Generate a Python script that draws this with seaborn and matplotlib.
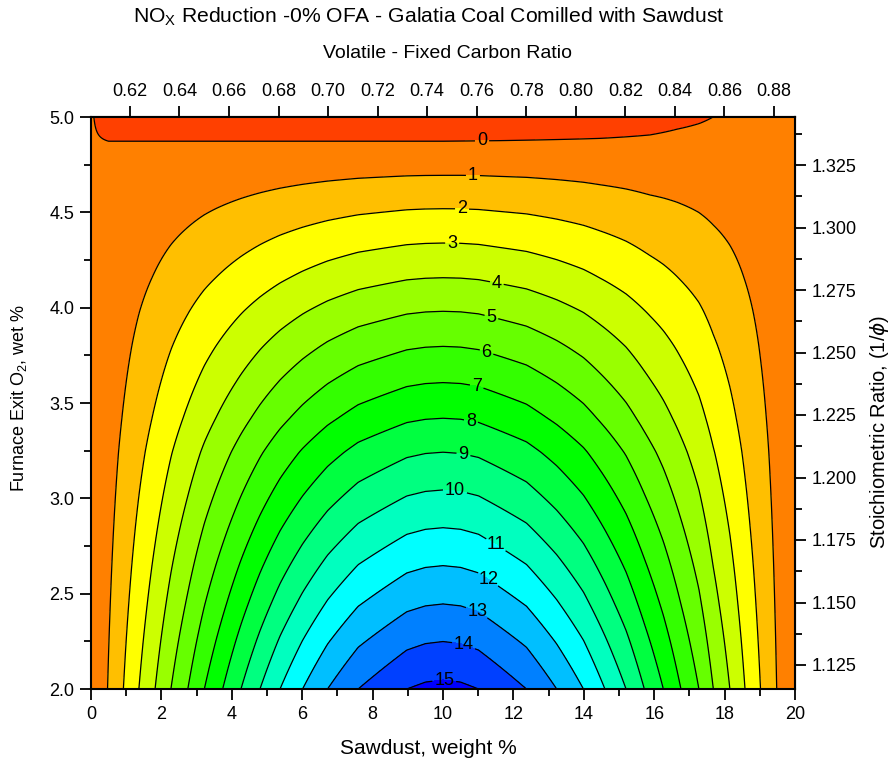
import numpy as np
import matplotlib
matplotlib.use("Agg")
import matplotlib.pyplot as plt
import seaborn as sns

# NOx reduction (%) read along the bottom edge (O2 = 2.0 %) versus sawdust weight %
sawdust_wt = [0.0, 0.47, 0.92, 1.36, 1.82, 2.27, 2.75, 3.22, 3.74, 4.26, 4.80,
              5.37, 6.01, 6.72, 7.59, 8.97, 9.5, 10.0, 10.5, 11.01, 12.37, 13.23,
              13.99, 14.60, 15.20, 15.72, 16.26, 16.76, 17.27, 17.68, 18.15,
              18.58, 19.02, 19.48, 20.0]
nox_low_o2 = [0.02, 1, 2, 3, 4, 5, 6, 7, 8, 9, 10,
              11, 12, 13, 14, 15, 15.18, 15.24, 15.18, 15, 14, 13,
              12, 11, 10, 9, 8, 7, 6, 5, 4,
              3, 2, 1, 0.05]

# NOx reduction (%) along the centre line (10 % sawdust) versus furnace exit O2
o2_wet = [2.0, 2.048, 2.249, 2.446, 2.647, 2.846, 3.044, 3.242, 3.420, 3.607,
          3.797, 3.981, 4.157, 4.339, 4.519, 4.694, 4.873, 5.0]
nox_centre = [15.24, 15, 14, 13, 12, 11, 10, 9, 8, 7,
              6, 5, 4, 3, 2, 1, 0, -0.71]

# value reached at the high-O2 edge where the sawdust term vanishes
edge_wt = [0.0, 0.5, 10.0, 11.6, 14.46, 15.88, 16.64, 17.3, 17.67, 20.0]
edge_nox = [0.01, 0.0, 0.0, 0.016, 0.061, 0.104, 0.163, 0.198, 0.223, 0.33]

levels = list(range(-1, 17))
line_levels = list(range(0, 16))
band_colors = ["#FF4000", "#FF8000", "#FFBF00", "#FFFF00", "#CCFF00", "#99FF00",
               "#66FF00", "#33FF00", "#00FF00", "#00FF40", "#00FF80", "#00FFBF",
               "#00FFFF", "#00BFFF", "#0080FF", "#0040FF", "#0000FF"]

# contour label anchor points (sawdust %, O2 %)
label_pos = [(11.11, 4.858), (10.85, 4.685), (10.54, 4.512), (10.26, 4.334),
             (11.53, 4.130), (11.39, 3.962), (11.22, 3.757), (10.97, 3.600),
             (10.80, 3.411), (10.57, 3.222), (10.34, 3.034), (11.59, 2.782),
             (11.31, 2.583), (10.97, 2.404), (10.57, 2.221), (10.03, 2.039)]

vfc_ticks = [0.62, 0.64, 0.66, 0.68, 0.70, 0.72, 0.74, 0.76, 0.78, 0.80,
             0.82, 0.84, 0.86, 0.88]
vfc_range = (0.6043, 0.8885)
sr_ticks = [1.125, 1.150, 1.175, 1.200, 1.225, 1.250, 1.275, 1.300, 1.325]
sr_range = (1.1154, 1.3442)

sns.set_style("ticks")
plt.rcParams["font.family"] = ["Liberation Sans", "DejaVu Sans"]
plt.rcParams["mathtext.fontset"] = "dejavusans"
for key in ("text.color", "axes.labelcolor", "xtick.color", "ytick.color",
            "axes.edgecolor"):
    plt.rcParams[key] = "black"

# separable response surface built from the two measured profiles
xg = np.linspace(0, 20, 801)
yg = np.linspace(2, 5, 601)
X, Y = np.meshgrid(xg, yg)
fx = np.interp(xg, sawdust_wt, nox_low_o2)
ey = np.interp(xg, edge_wt, edge_nox)
qy = np.interp(yg, o2_wet, nox_centre) / nox_centre[0]
Z = fx[None, :] * qy[:, None] + ey[None, :] * (1 - qy[:, None])

W, H = 895, 765
fig = plt.figure(figsize=(W / 100, H / 100), dpi=100)
ax = fig.add_axes([91 / W, 1 - 689 / H, 704 / W, 572 / H])

palette = sns.color_palette(band_colors)
ax.contourf(X, Y, Z, levels=levels, colors=palette)
cs = ax.contour(X, Y, Z, levels=line_levels, colors="black", linewidths=0.9)
labels = ax.clabel(cs, line_levels, manual=label_pos, fmt="%d", fontsize=13,
                   inline=True, inline_spacing=2, colors="black")
for t in labels:
    t.set_rotation(0)

ax.set_xlim(0, 20)
ax.set_ylim(2, 5)
ax.set_xticks(np.arange(0, 21, 2))
ax.set_xticks(np.arange(1, 20, 2), minor=True)
ax.set_yticks(np.arange(2.0, 5.01, 0.5))
ax.set_yticks(np.arange(2.25, 5.0, 0.5), minor=True)
ax.yaxis.set_major_formatter(matplotlib.ticker.FormatStrFormatter("%.1f"))
for s in ax.spines.values():
    s.set_linewidth(1.5)
    s.set_color("black")
ax.tick_params(which="both", direction="out", width=1.3, colors="black",
               labelsize=13, top=False, right=False)
ax.tick_params(which="major", length=8, pad=4)
ax.tick_params(which="minor", length=5)


def to_vfc(x):
    return vfc_range[0] + np.asarray(x) * (vfc_range[1] - vfc_range[0]) / 20


def from_vfc(v):
    return (np.asarray(v) - vfc_range[0]) * 20 / (vfc_range[1] - vfc_range[0])


def to_sr(y):
    return sr_range[0] + (np.asarray(y) - 2) * (sr_range[1] - sr_range[0]) / 3


def from_sr(s):
    return 2 + (np.asarray(s) - sr_range[0]) * 3 / (sr_range[1] - sr_range[0])


top = ax.secondary_xaxis("top", functions=(to_vfc, from_vfc))
top.set_xticks(vfc_ticks)
top.xaxis.set_major_formatter(matplotlib.ticker.FormatStrFormatter("%.2f"))
top.xaxis.set_minor_locator(matplotlib.ticker.NullLocator())
top.tick_params(which="major", direction="out", length=8, width=1.3,
                labelsize=13, pad=4, colors="black")

right = ax.secondary_yaxis("right", functions=(to_sr, from_sr))
right.set_yticks(sr_ticks)
right.set_yticks(np.arange(1.1375, 1.345, 0.025), minor=True)
right.yaxis.set_major_formatter(matplotlib.ticker.FormatStrFormatter("%.3f"))
right.tick_params(which="both", direction="out", width=1.3, labelsize=13,
                  colors="black")
right.tick_params(which="major", length=8, pad=4)
right.tick_params(which="minor", length=5)
for sec in (top, right):
    for s in sec.spines.values():
        s.set_linewidth(1.5)
        s.set_color("black")

fig.text(429 / W, 1 - 17 / H, r"NO$_\mathregular{X}$ Reduction -0% OFA - Galatia Coal Comilled with Sawdust",
         ha="center", va="center", fontsize=15.2)
fig.text(448 / W, 1 - 54 / H, "Volatile - Fixed Carbon Ratio",
         ha="center", va="center", fontsize=14)
fig.text(428 / W, 1 - 748 / H, "Sawdust, weight %",
         ha="center", va="center", fontsize=15)
fig.text(19 / W, 1 - 398 / H, r"Furnace Exit O$_\mathregular{2}$, wet %",
         ha="center", va="center", rotation=90, fontsize=13)
fig.text(880 / W, 1 - 432 / H, r"Stoichiometric Ratio, (1/$\phi$)",
         ha="center", va="center", rotation=90, fontsize=14.5)

fig.savefig("out.png", dpi=100)
